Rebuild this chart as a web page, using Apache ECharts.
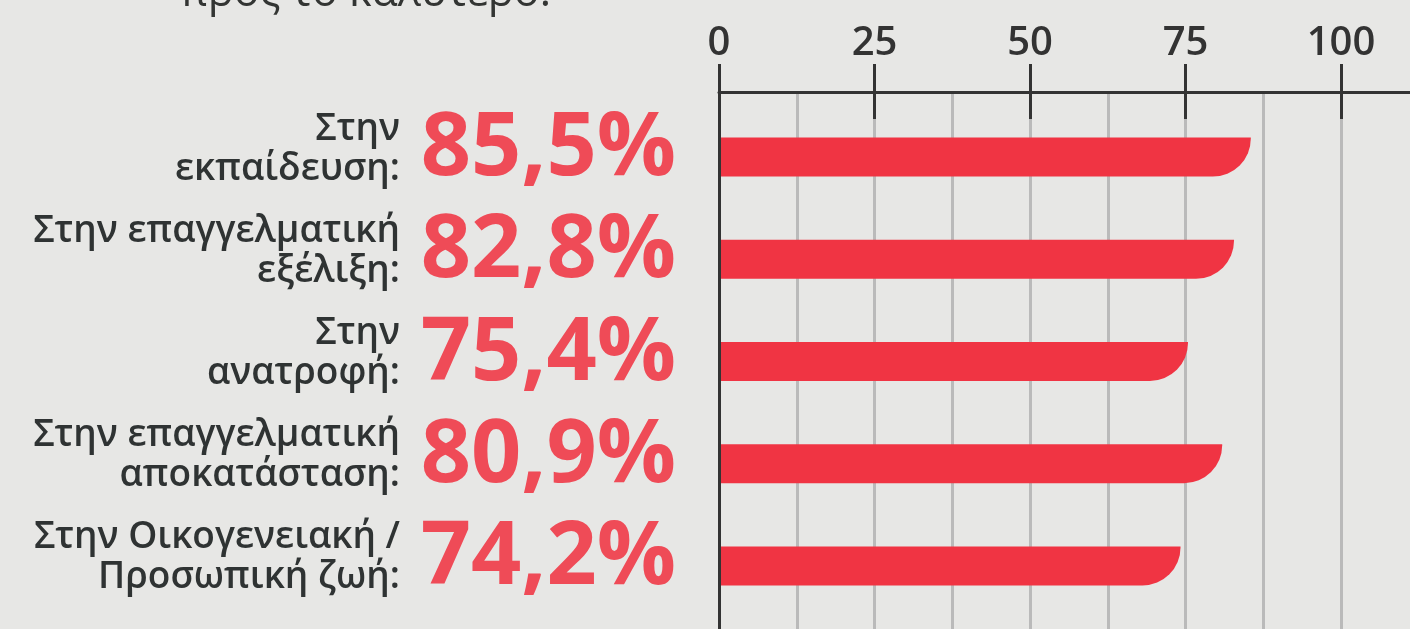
<!DOCTYPE html>
<html>
<head>
<meta charset="utf-8">
<script src="https://cdn.jsdelivr.net/npm/echarts@6/dist/echarts.min.js"></script>
<style>
html,body{margin:0;padding:0;background:#e7e7e5;}
#chart{width:1410px;height:629px;}
</style>
</head>
<body>
<div id="chart"></div>
<script>
const titleTail = 'προς το καλύτερο.';
const categories = [
  'Στην\nεκπαίδευση:',
  'Στην επαγγελματική\nεξέλιξη:',
  'Στην\nανατροφή:',
  'Στην επαγγελματική\nαποκατάσταση:',
  'Στην Οικογενειακή /\nΠροσωπική ζωή:'
];
const values = [85.5, 82.8, 75.4, 80.9, 74.2];
const tickValues = [0, 25, 50, 75, 100];

const pctLabels = values.map(v => v.toFixed(1).replace('.', ',') + '%');
const FONT = '"Open Sans", "Noto Sans", sans-serif';
const X_MAX = 112.7;

const chart = echarts.init(document.getElementById('chart'), null, {renderer: 'canvas'});
chart.setOption({
  backgroundColor: '#e7e7e5',
  animation: false,
  graphic: [{
    type: 'text', left: 180, top: -28,
    style: {text: titleTail, fontSize: 43, fontFamily: FONT, fontWeight: 500, fill: '#333533'}
  }],
  grid: [
    {left: 719, right: -10, top: 92, bottom: 0, outerBoundsMode: 'none', containLabel: false},
    {left: 719, right: -10, top: 106, height: 511, outerBoundsMode: 'none', containLabel: false}
  ],
  xAxis: [
    {
      gridIndex: 0, type: 'value', position: 'top', min: 0, max: X_MAX, interval: 25,
      axisLine: {show: true, onZero: false, lineStyle: {color: '#333333', width: 3}},
      axisTick: {show: true, length: 28, lineStyle: {color: '#333333', width: 3}},
      axisLabel: {
        show: true, margin: 28, fontSize: 40, fontFamily: FONT, fontWeight: 600, color: '#333333',
        formatter: v => tickValues.indexOf(v) >= 0 ? String(v) : ''
      },
      splitLine: {show: false}, z: 5
    },
    {
      gridIndex: 0, type: 'value', position: 'top', min: 0, max: X_MAX, interval: 25,
      axisLine: {show: false, onZero: false},
      axisTick: {show: true, inside: true, length: 27, lineStyle: {color: '#333333', width: 3}},
      axisLabel: {show: false}, splitLine: {show: false}, z: 5
    },
    {
      gridIndex: 0, type: 'value', position: 'bottom', min: 0, max: X_MAX, interval: 12.5,
      axisLine: {show: false, onZero: false}, axisTick: {show: false}, axisLabel: {show: false},
      splitLine: {show: true, lineStyle: {color: '#bababa', width: 3}}
    },
    {
      gridIndex: 1, type: 'value', min: 0, max: X_MAX, show: false
    }
  ],
  yAxis: [
    {
      gridIndex: 0, type: 'value', min: 0, max: 1, position: 'left',
      axisLine: {show: true, onZero: false, lineStyle: {color: '#333333', width: 3}},
      axisTick: {show: false}, axisLabel: {show: false}, splitLine: {show: false}, z: 6
    },
    {
      gridIndex: 1, type: 'category', inverse: true, data: categories, position: 'left',
      axisLine: {show: false, onZero: false}, axisTick: {show: false}, splitLine: {show: false},
      axisLabel: {
        interval: 0, hideOverlap: false,
        margin: 319, fontSize: 37, lineHeight: 40, fontFamily: FONT, fontWeight: 600,
        color: '#2f3333', align: 'right',
        formatter: v => v + '\n{s| }',
        rich: {s: {fontSize: 10, lineHeight: 16}}
      }
    },
    {
      gridIndex: 1, type: 'category', inverse: true, data: pctLabels, position: 'left',
      axisLine: {show: false, onZero: false}, axisTick: {show: false}, splitLine: {show: false},
      axisLabel: {
        interval: 0, hideOverlap: false,
        margin: 43, fontSize: 88, lineHeight: 90, fontFamily: FONT, fontWeight: 'bold',
        color: '#ef4b57', align: 'right',
        formatter: v => v + '\n{s| }',
        rich: {s: {fontSize: 10, lineHeight: 14}}
      }
    }
  ],
  series: [{
    type: 'bar', xAxisIndex: 3, yAxisIndex: 1, data: values, barWidth: 39,
    itemStyle: {color: '#f03443', borderRadius: [0, 0, 38, 0]},
    z: 3
  }]
});
</script>
</body>
</html>
